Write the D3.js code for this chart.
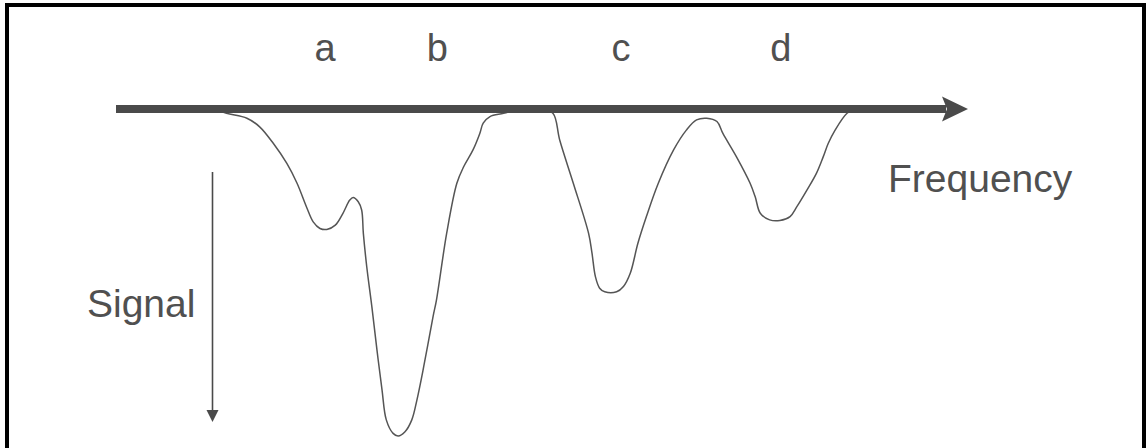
<!DOCTYPE html>
<html>
<head>
<meta charset="utf-8">
<script src="https://cdn.jsdelivr.net/npm/d3@7"></script>
<style>
  html, body { margin: 0; padding: 0; background: #fff; }
  svg { display: block; }
</style>
</head>
<body>
<svg id="chart" width="1146" height="448"></svg>
<script>
// Absorption-style spectrum: signal dips below the frequency axis.
// Frequency and signal in arbitrary units (0-100).
const frequency = [
  11.6, 13.0, 15.4, 16.9, 18.5, 20.1, 21.3, 22.4, 23.2, 24.0, 24.8, 25.8, 26.7,
  27.5, 27.9, 28.5, 28.9, 29.1, 29.5, 30.1, 30.7, 31.3, 31.8, 32.6, 33.2, 34.0,
  34.8, 35.4, 36.2, 37.3, 37.7, 38.9, 40.1, 40.9, 42.0, 42.8, 43.2, 44.0, 45.6,
  47.5, 49.9, 51.4, 52.2, 53.8, 55.6, 56.0, 56.4, 56.9, 57.5, 58.9, 59.7, 60.5,
  61.4, 62.4, 63.8, 65.6, 67.1, 68.3, 69.5, 70.7, 71.4, 73.0, 74.6, 75.2, 75.8,
  76.9, 78.1, 79.3, 80.1, 81.3, 82.4, 83.2, 83.8, 84.6, 86.0, 86.9
];
const signal = [
  0, 1.3, 2.8, 5.4, 10.4, 16.5, 22.5, 29.6, 34.2, 36.2, 36.5, 35.2, 31.6,
  27.6, 26.8, 28.1, 30.6, 37.7, 47.8, 59.9, 73.0, 85.2, 94.2, 98.3, 99.1, 97.8,
  94.2, 88.2, 78.1, 62.9, 57.9, 37.7, 22.5, 17.5, 12.4, 7.4, 4.3, 2.3, 1.3,
  0, 0, 1.3, 9.4, 22.5, 37.7, 43.7, 50.8, 54.3, 55.4, 55.4, 53.8, 49.8,
  40.7, 32.6, 22.5, 12.4, 6.4, 3.3, 2.8, 3.8, 7.4, 14.5, 22.5, 26.6, 31.6,
  33.6, 33.8, 32.6, 29.6, 24.5, 19.5, 14.5, 10.4, 6.4, 1.3, 0
];

// Peak labels and where they sit on the frequency axis
const peakLabels = ["a", "b", "c", "d"];
const peakFreq = [24.6, 37.8, 59.4, 78.2];

const axisLabelX = "Frequency";
const axisLabelY = "Signal";

const svg = d3.select("#chart");
const W = 1146, H = 448;

const x = d3.scaleLinear().domain([0, 100]).range([116, 966]);
const y = d3.scaleLinear().domain([0, 100]).range([109, 439]);

const ink = "#4a4a4a";
const textInk = "#505050";
const font = "'Liberation Sans', Arial, sans-serif";

// frame (open at the bottom)
svg.append("path")
  .attr("d", `M7,${H} V5 H1144 V${H}`)
  .attr("fill", "none")
  .attr("stroke", "#000")
  .attr("stroke-width", 4);
svg.append("line")
  .attr("x1", 1144).attr("x2", 1144).attr("y1", 5).attr("y2", H)
  .attr("stroke", "#000").attr("stroke-width", 3);

// spectrum trace
const pts = frequency.map((f, i) => [f, signal[i]]);
const line = d3.line()
  .x(d => x(d[0]))
  .y(d => y(d[1]))
  .curve(d3.curveCatmullRom.alpha(0.5));
svg.append("path")
  .datum(pts)
  .attr("d", line)
  .attr("fill", "none")
  .attr("stroke", "#555")
  .attr("stroke-width", 1.5);

// frequency axis: thick arrow
const y0 = y(0);
const xEnd = x(100);
svg.append("line")
  .attr("x1", x(0)).attr("x2", xEnd - 20)
  .attr("y1", y0).attr("y2", y0)
  .attr("stroke", ink).attr("stroke-width", 8);
svg.append("path")
  .attr("d", `M${xEnd + 2},${y0} L${xEnd - 24},${y0 - 12.5} L${xEnd - 19},${y0} L${xEnd - 24},${y0 + 12.5} Z`)
  .attr("fill", ink);

// signal direction: thin arrow pointing down
const ax = 212.5, ayTop = 172, ayBot = 422;
svg.append("line")
  .attr("x1", ax).attr("x2", ax)
  .attr("y1", ayTop).attr("y2", ayBot - 10)
  .attr("stroke", ink).attr("stroke-width", 1.6);
svg.append("path")
  .attr("d", `M${ax - 6},${ayBot - 12} L${ax + 6},${ayBot - 12} L${ax},${ayBot} Z`)
  .attr("fill", ink);

// peak labels
svg.selectAll("text.peak")
  .data(peakLabels)
  .join("text")
  .attr("class", "peak")
  .attr("x", (d, i) => x(peakFreq[i]))
  .attr("y", 61)
  .attr("text-anchor", "middle")
  .attr("font-family", font)
  .attr("font-size", 38)
  .attr("fill", textInk)
  .text(d => d);

// axis titles
svg.append("text")
  .attr("x", 888).attr("y", 192)
  .attr("font-family", font)
  .attr("font-size", 39)
  .attr("fill", textInk)
  .text(axisLabelX);

svg.append("text")
  .attr("x", 87).attr("y", 317)
  .attr("font-family", font)
  .attr("font-size", 39)
  .attr("fill", textInk)
  .text(axisLabelY);
</script>
</body>
</html>
